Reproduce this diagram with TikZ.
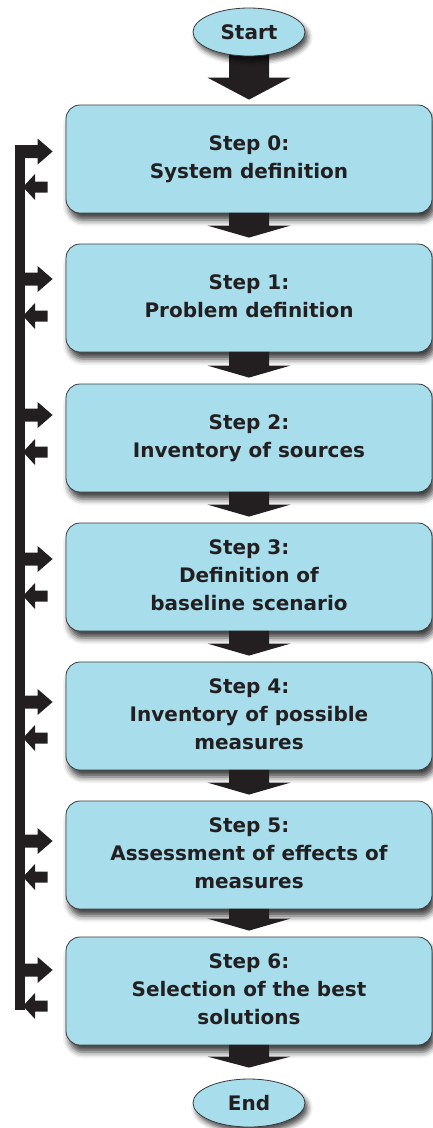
\documentclass[tikz,border=0pt]{standalone}
\usepackage{fontspec}
\setmainfont{DejaVu Sans}
\usetikzlibrary{shapes.geometric,calc,shadows.blur}
\definecolor{boxfill}{HTML}{A8DEEC}
\definecolor{boxline}{HTML}{3A3A3A}
\definecolor{ink}{HTML}{231F20}
\newcommand\steptext{\fontsize{20}{28}\selectfont\bfseries}
% block arrow between two nodes: from, to, head length, gap before target
\newcommand\flowarrow[4]{%
  \fill[ink] let \p1=(#1), \p2=(#1.south), \p3=(#2.north) in
    (\x1-20pt,\y2+0.5pt) -- (\x1+20pt,\y2+0.5pt) -- (\x1+20pt,\y3+#4+#3)
    -- (\x1+41.5pt,\y3+#4+#3) -- (\x1,\y3+#4) -- (\x1-41.5pt,\y3+#4+#3)
    -- (\x1-20pt,\y3+#4+#3) -- cycle;}
% feedback line -> box
\newcommand\toboxarrow[2]{%
  \fill[ink] let \p1=(#1.west), \p2=(0,#2), \p3=(fbtop) in
    (\x3-5pt,\y2+6.5pt) -- (\x1-28pt,\y2+6.5pt) -- (\x1-28pt,\y2+13pt)
    -- (\x1-13pt,\y2) -- (\x1-28pt,\y2-13pt) -- (\x1-28pt,\y2-6.5pt)
    -- (\x3-5pt,\y2-6.5pt) -- cycle;}
% box -> feedback line
\newcommand\fromboxarrow[2]{%
  \fill[ink] let \p1=(#1.west), \p2=(0,#2), \p3=(fbtop) in
    (\x1-18pt,\y2+5.5pt) -- (\x3+15pt,\y2+5.5pt) -- (\x3+15pt,\y2+13pt)
    -- (\x3+3pt,\y2) -- (\x3+15pt,\y2-13pt) -- (\x3+15pt,\y2-5.5pt)
    -- (\x1-18pt,\y2-5.5pt) -- cycle;}
\tikzset{
  stepbox/.style={draw=boxline, line width=0.8pt, fill=boxfill, rounded corners=14pt,
    minimum width=366pt, minimum height=108pt, inner sep=0pt, align=center,
    font=\steptext, text=ink, text depth=4pt,
    blur shadow={shadow xshift=3pt, shadow yshift=-7pt, shadow blur radius=6pt, shadow opacity=75}},
  term/.style={ellipse, draw=boxline, line width=0.8pt, fill=boxfill,
    minimum width=112pt, minimum height=48pt, inner sep=0pt,
    font=\steptext, text=ink,
    blur shadow={shadow xshift=3pt, shadow yshift=-5pt, shadow blur radius=5pt, shadow opacity=70}}
}
\begin{document}
\begin{tikzpicture}[x=1pt,y=-1pt]
\useasboundingbox (0,0) rectangle (433,1128);
\node[stepbox] (b0) at (249,159) {Step 0:\\System definition};
\node[stepbox] (b1) at (249,298) {Step 1:\\Problem definition};
\node[stepbox] (b2) at (249,438) {Step 2:\\Inventory of sources};
\node[stepbox] (b3) at (249,577) {Step 3:\\Definition of\\baseline scenario};
\node[stepbox] (b4) at (249,716) {Step 4:\\Inventory of possible\\measures};
\node[stepbox] (b5) at (249,855) {Step 5:\\Assessment of effects of\\measures};
\node[stepbox] (b6) at (249,991) {Step 6:\\Selection of the best\\solutions};
\coordinate (s0) at (249,32);
\flowarrow{s0}{b0}{22pt}{5pt}
\node[term] (start) at (s0) {Start};
\flowarrow{b0}{b1}{12pt}{6pt}
\flowarrow{b1}{b2}{12pt}{6pt}
\flowarrow{b2}{b3}{12pt}{6pt}
\flowarrow{b3}{b4}{12pt}{6pt}
\flowarrow{b4}{b5}{12pt}{6pt}
\flowarrow{b5}{b6}{12pt}{6pt}
\node[term] (end) at (249,1103) {End};
\flowarrow{b6}{end}{11pt}{11pt}
% feedback line
\coordinate (fbtop) at (20,145);
\coordinate (fbbot) at (20,1010);
\draw[ink, line width=10pt] (fbtop) -- (fbbot);
\toboxarrow{b0}{151.5}
\fromboxarrow{b0}{187}
\toboxarrow{b1}{279}
\fromboxarrow{b1}{316}
\toboxarrow{b2}{415}
\fromboxarrow{b2}{452}
\toboxarrow{b3}{559}
\fromboxarrow{b3}{596}
\toboxarrow{b4}{702}
\fromboxarrow{b4}{738}
\toboxarrow{b5}{841}
\fromboxarrow{b5}{877}
\toboxarrow{b6}{970}
\fromboxarrow{b6}{1006}
\end{tikzpicture}
\end{document}
